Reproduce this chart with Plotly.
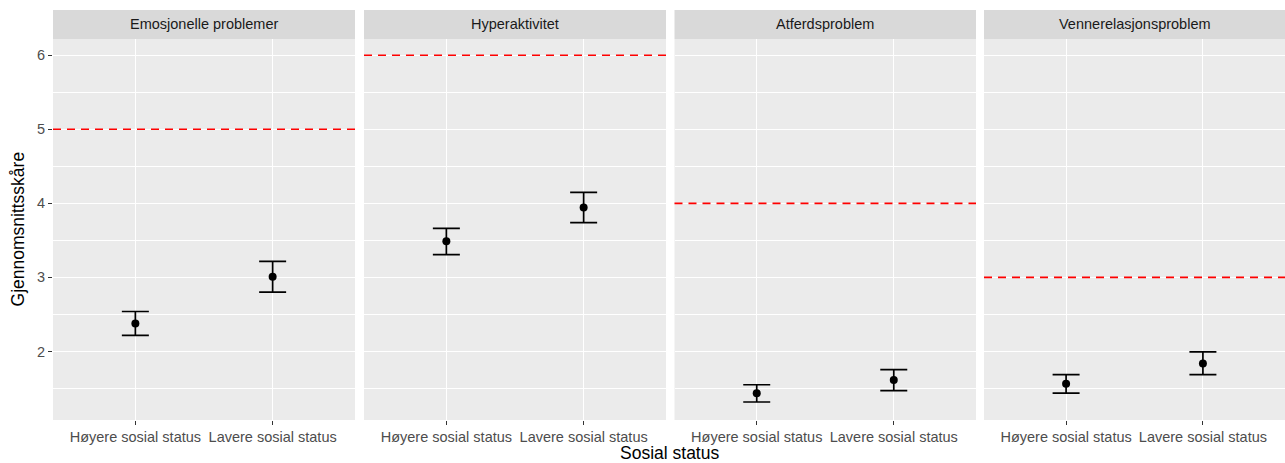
import plotly.graph_objects as go

panels = ["Emosjonelle problemer", "Hyperaktivitet", "Atferdsproblem", "Vennerelasjonsproblem"]
groups = ["Høyere sosial status", "Lavere sosial status"]
means = [[2.377, 3.01], [3.487, 3.945], [1.434, 1.613], [1.565, 1.838]]
upper = [[2.539, 3.217], [3.662, 4.147], [1.55, 1.753], [1.686, 1.995]]
lower = [[2.216, 2.80], [3.307, 3.739], [1.317, 1.47], [1.438, 1.686]]
cutoffs = [5, 6, 4, 3]

FONT = "Liberation Sans, Arial"
W, H = 1285, 463
ML, MR, MT, MB = 53, 0, 10, 42.5
plot_w = W - ML - MR
plot_h = H - MT - MB
panel_px = [(0, 302), (311, 613), (621.5, 923), (931, 1232)]
strip_h = 29
ydom_top = 1 - strip_h / plot_h

fig = go.Figure()
for i, name in enumerate(panels):
    xa = "x" if i == 0 else f"x{i+1}"
    err_plus = [u - m for u, m in zip(upper[i], means[i])]
    err_minus = [m - l for m, l in zip(means[i], lower[i])]
    fig.add_trace(go.Scatter(
        x=groups, y=means[i], xaxis=xa, yaxis="y", mode="markers",
        marker=dict(color="black", size=8),
        error_y=dict(type="data", symmetric=False, array=err_plus, arrayminus=err_minus,
                     color="black", thickness=1.7, width=13.5),
        showlegend=False, hoverinfo="skip"))
    d0 = panel_px[i][0] / plot_w
    d1 = panel_px[i][1] / plot_w
    axis = dict(domain=[d0, d1], anchor="y", type="category", categoryorder="array",
                categoryarray=groups, range=[-0.6, 1.6], showgrid=True, gridcolor="white",
                gridwidth=1.4, zeroline=False, ticks="outside", ticklen=4, tickwidth=1,
                tickcolor="#333333", tickfont=dict(family=FONT, size=14.5, color="#4d4d4d"),
                showline=False, fixedrange=True)
    key = "xaxis" if i == 0 else f"xaxis{i+1}"
    fig.layout[key] = axis
    # cutoff line
    fig.add_shape(type="line", xref=f"{xa} domain", yref="y", x0=0, x1=1,
                  y0=cutoffs[i], y1=cutoffs[i], line=dict(color="red", width=1.6, dash="8px,6px"),
                  layer="above")
    # strip
    fig.add_shape(type="rect", xref="paper", yref="paper", x0=d0, x1=d1, y0=ydom_top, y1=1,
                  fillcolor="#d9d9d9", line=dict(width=0), layer="below")
    fig.add_annotation(text=name, xref="paper", yref="paper", x=(d0 + d1) / 2,
                       y=(ydom_top + 1) / 2, showarrow=False, xanchor="center", yanchor="middle",
                       font=dict(family=FONT, size=14.5, color="#1a1a1a"))

fig.update_layout(
    width=W, height=H, margin=dict(l=ML, r=MR, t=MT, b=MB, pad=0),
    paper_bgcolor="white", plot_bgcolor="#ebebeb",
    yaxis=dict(domain=[0, ydom_top], range=[1.074, 6.22], tickvals=[2, 3, 4, 5, 6],
               showgrid=True, gridcolor="white", gridwidth=1.4, zeroline=False,
               ticks="outside", ticklen=4, tickwidth=1, tickcolor="#333333",
               tickfont=dict(family=FONT, size=14.5, color="#4d4d4d"),
               minor=dict(dtick=0.5, tick0=0, showgrid=True, gridcolor="white", gridwidth=0.7, ticklen=0),
               anchor="x", fixedrange=True),
)

fig.add_annotation(text="Gjennomsnittsskåre", xref="paper", yref="paper",
                   x=-35 / plot_w, y=ydom_top / 2, textangle=-90, showarrow=False,
                   xanchor="center", yanchor="middle",
                   font=dict(family=FONT, size=17.5, color="black"))
fig.add_annotation(text="Sosial status", xref="paper", yref="paper",
                   x=0.5, y=-(454 - (H - MB)) / plot_h, showarrow=False,
                   xanchor="center", yanchor="middle",
                   font=dict(family=FONT, size=17.5, color="black"))

fig.write_html("out.html")
